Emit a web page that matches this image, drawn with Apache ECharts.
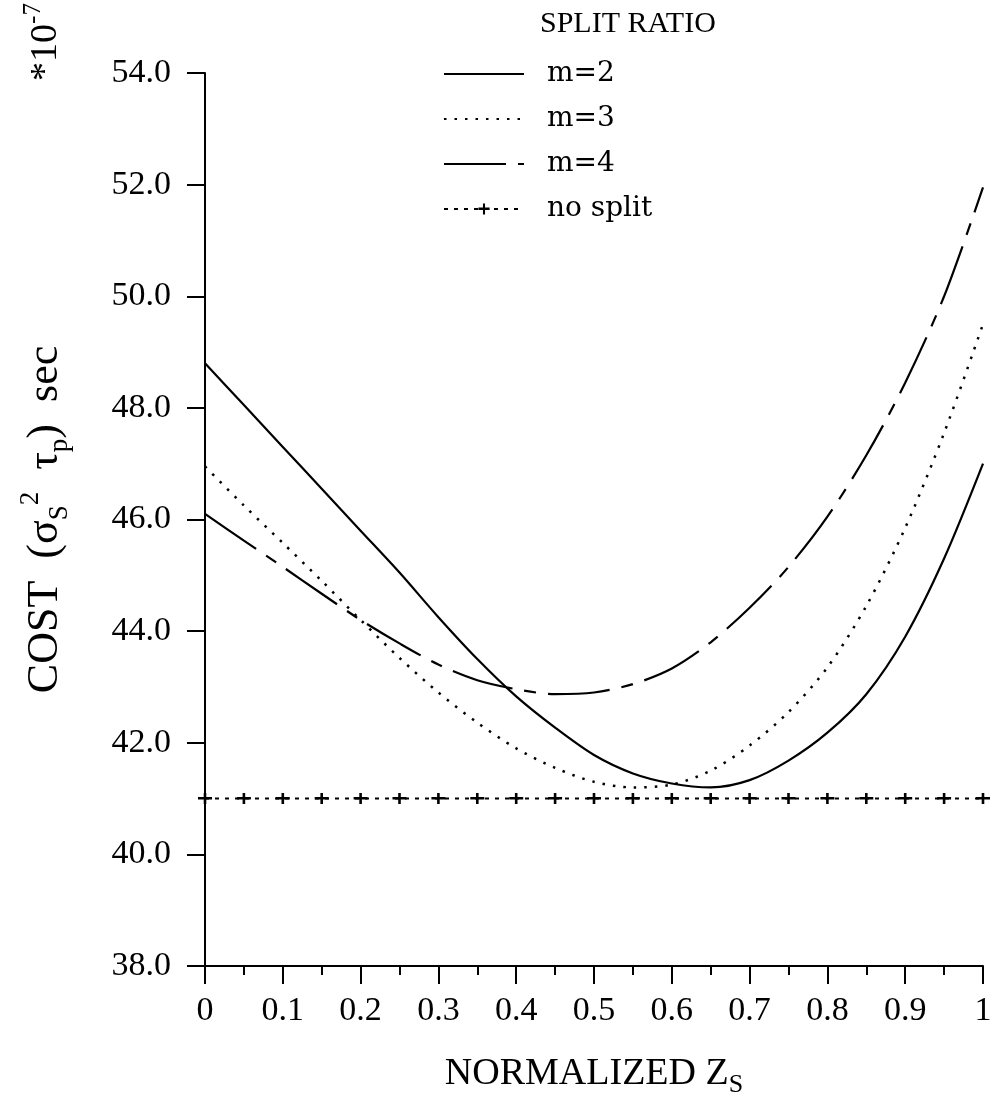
<!DOCTYPE html>
<html><head><meta charset="utf-8">
<script src="https://cdn.jsdelivr.net/npm/echarts@6/dist/echarts.min.js"></script>
<style>html,body{margin:0;padding:0;background:#fff}#c{width:991px;height:1099px}</style>
</head><body><div id="c"></div>
<script>
const xValues = [0,0.05,0.1,0.15,0.2,0.25,0.3,0.35,0.4,0.45,0.5,0.55,0.6,0.65,0.7,0.75,0.8,0.85,0.9,0.95,1];
const m2 = [48.8,48.05,47.3,46.55,45.8,45.05,44.25,43.5,42.83,42.27,41.78,41.45,41.27,41.2,41.33,41.68,42.18,42.87,43.9,45.3,47.0];
const m3 = [46.95,46.25,45.58,44.9,44.2,43.52,42.9,42.36,41.9,41.55,41.3,41.2,41.25,41.5,41.95,42.55,43.35,44.45,45.85,47.55,49.5];
const m4 = [46.1,45.62,45.15,44.67,44.2,43.78,43.4,43.12,42.96,42.87,42.9,43.05,43.33,43.8,44.42,45.15,46.05,47.15,48.45,50.0,51.95];
const noSplit = [41,41,41,41,41,41,41,41,41,41,41,41,41,41,41,41,41,41,41,41,41];
const xTickLabels = ['0','0.1','0.2','0.3','0.4','0.5','0.6','0.7','0.8','0.9','1'];
const yTickLabels = ['38.0','40.0','42.0','44.0','46.0','48.0','50.0','52.0','54.0'];
const seriesNames = ['m=2','m=3','m=4','no split'];

const FONT = 'Liberation Serif';
const WIDE = 'DejaVu Serif';
const pair = arr => xValues.map((x, i) => [x, arr[i]]);
const plusPath = 'path://M0,4 L14,4 L14,6.5 L0,6.5 Z M5.7,0 L8.3,0 L8.3,11 L5.7,11 Z';

const chart = echarts.init(document.getElementById('c'), null, {renderer: 'canvas'});
chart.setOption({
  backgroundColor: '#fff',
  animation: false,
  title: {
    text: 'SPLIT RATIO', left: 535, top: 4,
    textStyle: {fontFamily: FONT, fontSize: 30, fontWeight: 'normal', color: '#000'}
  },
  legend: {
    orient: 'vertical', left: 438, top: 55,
    itemWidth: 80, itemHeight: 14, itemGap: 17,
    textStyle: {fontFamily: WIDE, fontSize: 28, color: '#000', padding: [0, 0, 0, 18]},
    data: [
      {name: seriesNames[0], itemStyle: {opacity: 0}},
      {name: seriesNames[1], itemStyle: {opacity: 0}},
      {name: seriesNames[2], itemStyle: {opacity: 0}},
      {name: seriesNames[3]}
    ]
  },
  grid: {left: 205, right: 8, top: 73, bottom: 133, containLabel: false, outerBoundsMode: 'none'},
  xAxis: {
    type: 'value', min: 0, max: 1, interval: 0.1,
    name: '{a|NORMALIZED Z}{s|S}', nameLocation: 'middle', nameGap: 84,
    nameTextStyle: {rich: {
      a: {fontFamily: FONT, fontSize: 38, color: '#000', lineHeight: 48},
      s: {fontFamily: FONT, fontSize: 26, color: '#000', verticalAlign: 'bottom'}
    }},
    axisLine: {lineStyle: {color: '#000', width: 2}},
    axisTick: {show: true, inside: false, length: 18, lineStyle: {color: '#000', width: 2}},
    minorTick: {show: true, splitNumber: 2, length: 9, lineStyle: {color: '#000', width: 2}},
    splitLine: {show: false},
    axisLabel: {
      margin: 28, color: '#000', fontFamily: FONT, fontSize: 34,
      formatter: v => xTickLabels[Math.round(v * 10)]
    }
  },
  yAxis: {
    type: 'value', min: 38, max: 54, interval: 2,
    name: '{a|COST  (σ}{s|S}{p|2}{a|  τ}{s|p}{a|)  sec}', nameLocation: 'middle', nameGap: 132, nameRotate: 90,
    nameTextStyle: {rich: {
      a: {fontFamily: FONT, fontSize: 44, color: '#000', lineHeight: 56},
      s: {fontFamily: FONT, fontSize: 27, color: '#000', verticalAlign: 'bottom'},
      p: {fontFamily: FONT, fontSize: 27, color: '#000', verticalAlign: 'top'}
    }},
    axisLine: {show: true, lineStyle: {color: '#000', width: 2}},
    axisTick: {show: true, inside: false, length: 18, lineStyle: {color: '#000', width: 2}},
    splitLine: {show: false},
    axisLabel: {
      margin: 34, color: '#000', fontFamily: FONT, fontSize: 34,
      formatter: v => yTickLabels[Math.round((v - 38) / 2)]
    }
  },
  graphic: [{
    type: 'text', x: 46, y: 42, rotation: Math.PI / 2,
    style: {
      text: '{a|*10}{p|-7}', align: 'center', verticalAlign: 'middle',
      rich: {
        a: {fontFamily: FONT, fontSize: 38, fill: '#000', lineHeight: 50},
        p: {fontFamily: FONT, fontSize: 25, fill: '#000', verticalAlign: 'top'}
      }
    }
  }],
  series: [
    {name: seriesNames[0], type: 'line', data: pair(m2), smooth: 0.3, symbol: 'none',
     lineStyle: {color: '#000', width: 2.2, type: 'solid'}, itemStyle: {color: '#000'}},
    {name: seriesNames[1], type: 'line', data: pair(m3), smooth: 0.3, symbol: 'none',
     lineStyle: {color: '#000', width: 2.5, type: [2.5, 8]}, itemStyle: {color: '#000'}},
    {name: seriesNames[2], type: 'line', data: pair(m4), smooth: 0.3, symbol: 'none',
     lineStyle: {color: '#000', width: 2.2, type: [62, 12, 12, 12]}, itemStyle: {color: '#000'}},
    {name: seriesNames[3], type: 'line', data: pair(noSplit), symbol: plusPath, symbolSize: [14, 11],
     showSymbol: true, lineStyle: {color: '#000', width: 2, type: [4, 6]}, itemStyle: {color: '#000'}}
  ]
});
</script></body></html>
